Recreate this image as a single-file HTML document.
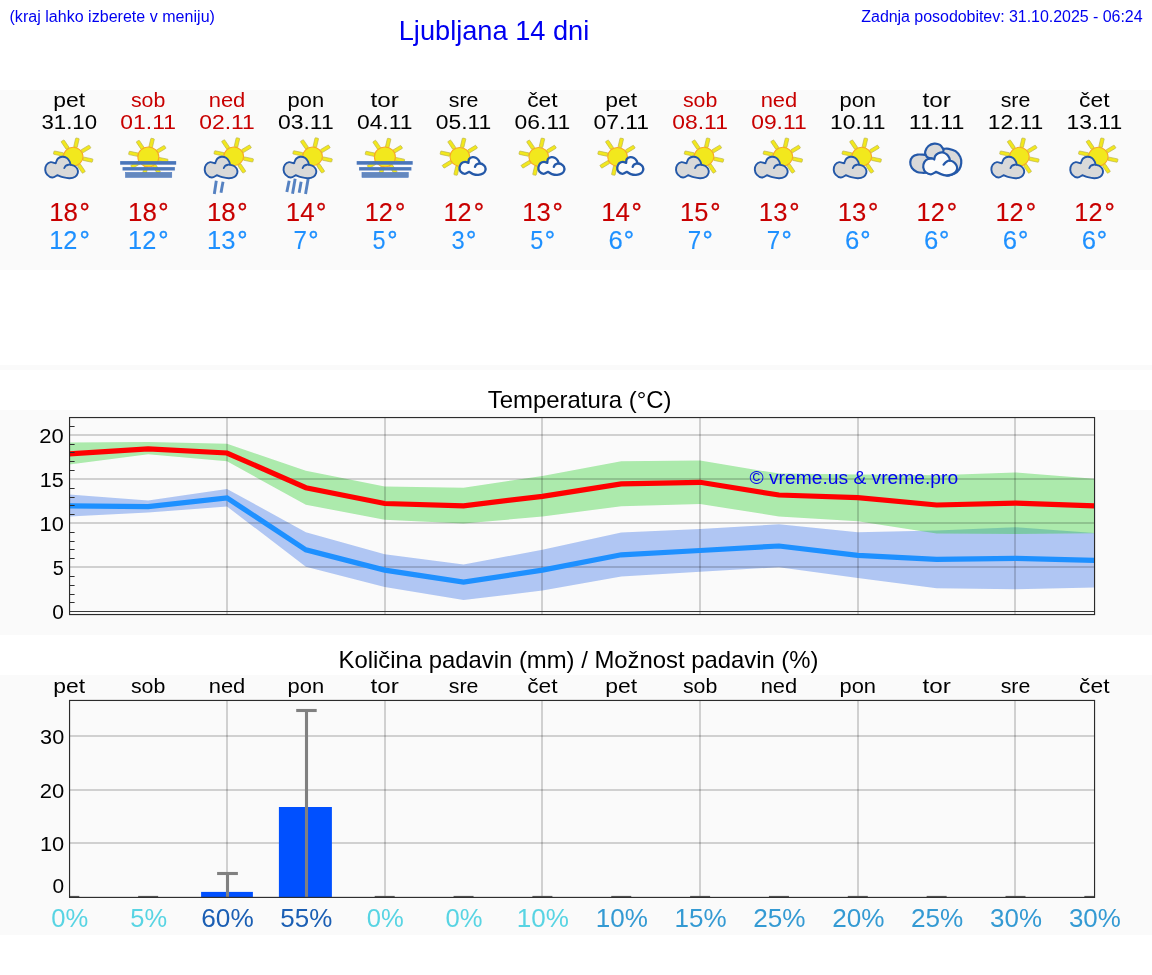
<!DOCTYPE html>
<html lang="sl"><head><meta charset="utf-8"><title>Ljubljana 14 dni</title>
<style>
html,body{margin:0;padding:0;background:#fff;}
body{width:1152px;height:975px;position:relative;overflow:hidden;will-change:transform;font-family:"Liberation Sans",sans-serif;}
.h{position:absolute;color:#0000f0;white-space:nowrap;line-height:1;}
#hl{left:9.5px;top:9px;font-size:16px;letter-spacing:0.03px;}
#hr{right:9.5px;top:9px;font-size:16px;letter-spacing:-0.045px;}
#ht{left:0;width:988px;text-align:center;top:16.5px;font-size:27.2px;}
</style></head><body>
<svg width="1152" height="975" viewBox="0 0 1152 975" style="position:absolute;left:0;top:0;font-family:'Liberation Sans',sans-serif">
<defs><g id="iA"><g transform="translate(32.9 22.6) scale(1.06 1)"><rect x="9.6" y="-1.7" width="9.2" height="3.4" rx="0.6" fill="#f2e81d" stroke="#b9b24c" stroke-width="0.6" transform="rotate(12.5)"/><rect x="9.6" y="-1.7" width="9.2" height="3.4" rx="0.6" fill="#f2e81d" stroke="#b9b24c" stroke-width="0.6" transform="rotate(57.5)"/><rect x="9.6" y="-1.7" width="9.2" height="3.4" rx="0.6" fill="#f2e81d" stroke="#b9b24c" stroke-width="0.6" transform="rotate(192.5)"/><rect x="9.6" y="-1.7" width="9.2" height="3.4" rx="0.6" fill="#f2e81d" stroke="#b9b24c" stroke-width="0.6" transform="rotate(237.5)"/><rect x="9.6" y="-1.7" width="9.2" height="3.4" rx="0.6" fill="#f2e81d" stroke="#b9b24c" stroke-width="0.6" transform="rotate(282.5)"/><rect x="9.6" y="-1.7" width="9.2" height="3.4" rx="0.6" fill="#f2e81d" stroke="#b9b24c" stroke-width="0.6" transform="rotate(327.5)"/><circle r="9.3" fill="#f2e81d" stroke="#f7a823" stroke-width="1"/></g><path d="M17.2 41.1C16.33 41.5 13.73 43.58 12 43.5C10.27 43.42 7.98 41.87 6.8 40.6C5.62 39.33 4.99 37.55 4.9 35.9C4.81 34.25 5.33 32 6.25 30.7C7.17 29.4 8.93 28.35 10.4 28.1C11.88 27.85 14.23 29.12 15.1 29.2C15.97 29.28 15.52 28.7 15.6 28.6C15.95 27.92 16.65 25.48 17.7 24.5C18.75 23.52 20.42 22.78 21.9 22.7C23.38 22.62 25.35 23.18 26.6 24C27.85 24.82 28.8 26.48 29.4 27.6C30 28.72 30.07 30.18 30.2 30.7C30.81 30.88 32.72 31.1 33.85 31.8C34.98 32.5 36.39 33.68 37 34.9C37.61 36.12 37.85 37.8 37.5 39.1C37.15 40.4 36.28 41.83 34.9 42.7C33.52 43.57 31.28 44.22 29.2 44.3C27.12 44.38 24.4 43.73 22.4 43.2C20.4 42.67 18.07 41.45 17.2 41.1Z" fill="#d9d9d9" stroke="#2458a8" stroke-width="1.9" stroke-linejoin="round"/><path d="M24 34.1C24.25 33.72 24.82 32.37 25.5 31.8C26.18 31.23 27.32 30.88 28.1 30.7C28.88 30.52 29.85 30.7 30.2 30.7" fill="none" stroke="#2458a8" stroke-width="1.9" stroke-linecap="round"/></g><g id="iB"><g transform="translate(29.2 22.9) scale(1.06 1)"><rect x="9.6" y="-1.7" width="9.2" height="3.4" rx="0.6" fill="#f2e81d" stroke="#b9b24c" stroke-width="0.6" transform="rotate(12.5)"/><rect x="9.6" y="-1.7" width="9.2" height="3.4" rx="0.6" fill="#f2e81d" stroke="#b9b24c" stroke-width="0.6" transform="rotate(57.5)"/><rect x="9.6" y="-1.7" width="9.2" height="3.4" rx="0.6" fill="#f2e81d" stroke="#b9b24c" stroke-width="0.6" transform="rotate(102.5)"/><rect x="9.6" y="-1.7" width="9.2" height="3.4" rx="0.6" fill="#f2e81d" stroke="#b9b24c" stroke-width="0.6" transform="rotate(147.5)"/><rect x="9.6" y="-1.7" width="9.2" height="3.4" rx="0.6" fill="#f2e81d" stroke="#b9b24c" stroke-width="0.6" transform="rotate(192.5)"/><rect x="9.6" y="-1.7" width="9.2" height="3.4" rx="0.6" fill="#f2e81d" stroke="#b9b24c" stroke-width="0.6" transform="rotate(237.5)"/><rect x="9.6" y="-1.7" width="9.2" height="3.4" rx="0.6" fill="#f2e81d" stroke="#b9b24c" stroke-width="0.6" transform="rotate(282.5)"/><rect x="9.6" y="-1.7" width="9.2" height="3.4" rx="0.6" fill="#f2e81d" stroke="#b9b24c" stroke-width="0.6" transform="rotate(327.5)"/><circle r="9.9" fill="#f2e81d" stroke="#f7a823" stroke-width="1"/></g><rect x="1" y="27.1" width="56" height="3.6" fill="#4a76ba"/><rect x="3.4" y="33.1" width="52.3" height="3.4" fill="#4e79bb"/><rect x="6.25" y="38.3" width="46.4" height="5.2" fill="#6488be" stroke="#4a78c4" stroke-width="0.5"/></g><g id="iC"><g transform="translate(35.7 22.4) scale(1.06 1)"><rect x="9.6" y="-1.7" width="9.2" height="3.4" rx="0.6" fill="#f2e81d" stroke="#b9b24c" stroke-width="0.6" transform="rotate(12.5)"/><rect x="9.6" y="-1.7" width="9.2" height="3.4" rx="0.6" fill="#f2e81d" stroke="#b9b24c" stroke-width="0.6" transform="rotate(57.5)"/><rect x="9.6" y="-1.7" width="9.2" height="3.4" rx="0.6" fill="#f2e81d" stroke="#b9b24c" stroke-width="0.6" transform="rotate(192.5)"/><rect x="9.6" y="-1.7" width="9.2" height="3.4" rx="0.6" fill="#f2e81d" stroke="#b9b24c" stroke-width="0.6" transform="rotate(237.5)"/><rect x="9.6" y="-1.7" width="9.2" height="3.4" rx="0.6" fill="#f2e81d" stroke="#b9b24c" stroke-width="0.6" transform="rotate(282.5)"/><rect x="9.6" y="-1.7" width="9.2" height="3.4" rx="0.6" fill="#f2e81d" stroke="#b9b24c" stroke-width="0.6" transform="rotate(327.5)"/><circle r="9.3" fill="#f2e81d" stroke="#f7a823" stroke-width="1"/></g><line x1="18.3" y1="46.7" x2="16.3" y2="60" stroke="#4474bb" stroke-width="2.9" stroke-opacity="0.9"/><line x1="25" y1="47.7" x2="23" y2="58.7" stroke="#4474bb" stroke-width="2.9" stroke-opacity="0.9"/><g transform="translate(1.8 0)"><path d="M17.2 41.1C16.33 41.5 13.73 43.58 12 43.5C10.27 43.42 7.98 41.87 6.8 40.6C5.62 39.33 4.99 37.55 4.9 35.9C4.81 34.25 5.33 32 6.25 30.7C7.17 29.4 8.93 28.35 10.4 28.1C11.88 27.85 14.23 29.12 15.1 29.2C15.97 29.28 15.52 28.7 15.6 28.6C15.95 27.92 16.65 25.48 17.7 24.5C18.75 23.52 20.42 22.78 21.9 22.7C23.38 22.62 25.35 23.18 26.6 24C27.85 24.82 28.8 26.48 29.4 27.6C30 28.72 30.07 30.18 30.2 30.7C30.81 30.88 32.72 31.1 33.85 31.8C34.98 32.5 36.39 33.68 37 34.9C37.61 36.12 37.85 37.8 37.5 39.1C37.15 40.4 36.28 41.83 34.9 42.7C33.52 43.57 31.28 44.22 29.2 44.3C27.12 44.38 24.4 43.73 22.4 43.2C20.4 42.67 18.07 41.45 17.2 41.1Z" fill="#d9d9d9" stroke="#2458a8" stroke-width="1.9" stroke-linejoin="round"/><path d="M24 34.1C24.25 33.72 24.82 32.37 25.5 31.8C26.18 31.23 27.32 30.88 28.1 30.7C28.88 30.52 29.85 30.7 30.2 30.7" fill="none" stroke="#2458a8" stroke-width="1.9" stroke-linecap="round"/></g></g><g id="iD"><g transform="translate(35.7 22.4) scale(1.06 1)"><rect x="9.6" y="-1.7" width="9.2" height="3.4" rx="0.6" fill="#f2e81d" stroke="#b9b24c" stroke-width="0.6" transform="rotate(12.5)"/><rect x="9.6" y="-1.7" width="9.2" height="3.4" rx="0.6" fill="#f2e81d" stroke="#b9b24c" stroke-width="0.6" transform="rotate(57.5)"/><rect x="9.6" y="-1.7" width="9.2" height="3.4" rx="0.6" fill="#f2e81d" stroke="#b9b24c" stroke-width="0.6" transform="rotate(192.5)"/><rect x="9.6" y="-1.7" width="9.2" height="3.4" rx="0.6" fill="#f2e81d" stroke="#b9b24c" stroke-width="0.6" transform="rotate(237.5)"/><rect x="9.6" y="-1.7" width="9.2" height="3.4" rx="0.6" fill="#f2e81d" stroke="#b9b24c" stroke-width="0.6" transform="rotate(282.5)"/><rect x="9.6" y="-1.7" width="9.2" height="3.4" rx="0.6" fill="#f2e81d" stroke="#b9b24c" stroke-width="0.6" transform="rotate(327.5)"/><circle r="9.3" fill="#f2e81d" stroke="#f7a823" stroke-width="1"/></g><line x1="12.3" y1="46.7" x2="10" y2="58" stroke="#4474bb" stroke-width="2.9" stroke-opacity="0.9"/><line x1="18.3" y1="44.7" x2="15.7" y2="59.7" stroke="#4474bb" stroke-width="2.9" stroke-opacity="0.9"/><line x1="24.3" y1="47.7" x2="22.3" y2="58.7" stroke="#4474bb" stroke-width="2.9" stroke-opacity="0.9"/><line x1="31.3" y1="44.7" x2="28.7" y2="60" stroke="#4474bb" stroke-width="2.9" stroke-opacity="0.9"/><g transform="translate(1.8 0)"><path d="M17.2 41.1C16.33 41.5 13.73 43.58 12 43.5C10.27 43.42 7.98 41.87 6.8 40.6C5.62 39.33 4.99 37.55 4.9 35.9C4.81 34.25 5.33 32 6.25 30.7C7.17 29.4 8.93 28.35 10.4 28.1C11.88 27.85 14.23 29.12 15.1 29.2C15.97 29.28 15.52 28.7 15.6 28.6C15.95 27.92 16.65 25.48 17.7 24.5C18.75 23.52 20.42 22.78 21.9 22.7C23.38 22.62 25.35 23.18 26.6 24C27.85 24.82 28.8 26.48 29.4 27.6C30 28.72 30.07 30.18 30.2 30.7C30.81 30.88 32.72 31.1 33.85 31.8C34.98 32.5 36.39 33.68 37 34.9C37.61 36.12 37.85 37.8 37.5 39.1C37.15 40.4 36.28 41.83 34.9 42.7C33.52 43.57 31.28 44.22 29.2 44.3C27.12 44.38 24.4 43.73 22.4 43.2C20.4 42.67 18.07 41.45 17.2 41.1Z" fill="#d9d9d9" stroke="#2458a8" stroke-width="1.9" stroke-linejoin="round"/><path d="M24 34.1C24.25 33.72 24.82 32.37 25.5 31.8C26.18 31.23 27.32 30.88 28.1 30.7C28.88 30.52 29.85 30.7 30.2 30.7" fill="none" stroke="#2458a8" stroke-width="1.9" stroke-linecap="round"/></g></g><g id="iE"><g transform="translate(25.3 22.7) scale(1.06 1)"><rect x="9.6" y="-1.7" width="9.2" height="3.4" rx="0.6" fill="#f2e81d" stroke="#b9b24c" stroke-width="0.6" transform="rotate(102.5)"/><rect x="9.6" y="-1.7" width="9.2" height="3.4" rx="0.6" fill="#f2e81d" stroke="#b9b24c" stroke-width="0.6" transform="rotate(147.5)"/><rect x="9.6" y="-1.7" width="9.2" height="3.4" rx="0.6" fill="#f2e81d" stroke="#b9b24c" stroke-width="0.6" transform="rotate(192.5)"/><rect x="9.6" y="-1.7" width="9.2" height="3.4" rx="0.6" fill="#f2e81d" stroke="#b9b24c" stroke-width="0.6" transform="rotate(237.5)"/><rect x="9.6" y="-1.7" width="9.2" height="3.4" rx="0.6" fill="#f2e81d" stroke="#b9b24c" stroke-width="0.6" transform="rotate(282.5)"/><rect x="9.6" y="-1.7" width="9.2" height="3.4" rx="0.6" fill="#f2e81d" stroke="#b9b24c" stroke-width="0.6" transform="rotate(327.5)"/><circle r="9.3" fill="#f2e81d" stroke="#f7a823" stroke-width="1"/></g><path d="M34.6 37.8C33.87 38.13 31.63 39.85 30.2 39.8C28.77 39.75 26.87 38.58 26 37.5C25.13 36.42 24.82 34.68 25 33.3C25.18 31.92 26.15 30.1 27.1 29.2C28.05 28.3 29.62 27.95 30.7 27.9C31.78 27.85 33.07 28.78 33.6 28.9C34.13 29.02 33.85 28.65 33.9 28.6C34.02 28 33.92 25.9 34.6 25C35.28 24.1 36.82 23.37 38 23.2C39.18 23.03 40.65 23.43 41.7 24C42.75 24.57 43.7 25.7 44.3 26.6C44.9 27.5 45.13 28.93 45.3 29.4C45.73 29.53 47.03 29.63 47.9 30.2C48.77 30.77 50.02 31.75 50.5 32.8C50.98 33.85 51.15 35.37 50.8 36.5C50.45 37.63 49.57 38.87 48.4 39.6C47.23 40.33 45.4 40.82 43.75 40.9C42.1 40.98 40.02 40.62 38.5 40.1C36.98 39.58 35.25 38.18 34.6 37.8Z" fill="#fcfcfc" stroke="#2458a8" stroke-width="2.3" stroke-linejoin="round"/><path d="M40.4 32.8C40.62 32.45 41.14 31.22 41.7 30.7C42.26 30.18 43.15 29.92 43.75 29.7C44.35 29.48 45.04 29.45 45.3 29.4" fill="none" stroke="#2458a8" stroke-width="2.3" stroke-linecap="round"/></g><g id="iF" stroke-width="2.2"><path d="M15.6 38.8C14.57 38.67 11.3 38.82 9.4 38C7.5 37.18 5.33 35.55 4.2 33.9C3.07 32.25 2.52 29.93 2.6 28.1C2.68 26.27 3.48 24.15 4.7 22.9C5.92 21.65 7.82 20.95 9.9 20.6C11.98 20.25 15.9 20.8 17.2 20.8C18.5 20.8 17.62 20.63 17.7 20.6C17.7 20.03 17.18 18.63 17.7 17.2C18.22 15.77 19.32 13.27 20.8 12C22.28 10.73 24.68 9.78 26.6 9.6C28.52 9.42 30.78 9.98 32.3 10.9C33.82 11.82 35.1 14.45 35.7 15.1C36.3 15.75 35.87 14.85 35.9 14.8C36.77 14.8 39.1 14.4 41.1 14.8C43.1 15.2 45.98 15.85 47.9 17.2C49.82 18.55 51.65 20.9 52.6 22.9C53.55 24.9 53.77 27.12 53.6 29.2C53.43 31.28 52.72 33.67 51.6 35.4C50.48 37.13 48.9 38.55 46.9 39.6C44.9 40.65 40.82 41.35 39.6 41.7L30 38Z" fill="#d9d9d9" stroke="#2458a8" stroke-linejoin="round"/><path d="M17.7 20.6C17.92 20.93 18.48 22.08 19 22.6C19.52 23.12 19.88 23.38 20.8 23.7C21.72 24.02 23.88 24.37 24.5 24.5M35.9 14.8C35.88 15.1 35.88 15.98 35.8 16.6C35.72 17.22 35.47 18.18 35.4 18.5" fill="none" stroke="#2458a8" stroke-linecap="round"/><path d="M28.4 37.8C27.57 38.23 25.1 40.32 23.4 40.4C21.7 40.48 19.5 39.48 18.2 38.3C16.9 37.12 15.85 35 15.6 33.3C15.35 31.6 15.92 29.48 16.7 28.1C17.48 26.72 18.92 25.57 20.3 25C21.68 24.43 23.95 24.62 25 24.7C26.05 24.78 26.33 25.37 26.6 25.5C26.77 24.9 26.92 22.93 27.6 21.9C28.28 20.87 29.48 19.87 30.7 19.3C31.92 18.73 33.5 18.33 34.9 18.5C36.3 18.67 37.97 19.38 39.1 20.3C40.23 21.22 41.18 22.95 41.7 24C42.22 25.05 42.12 26.17 42.2 26.6C42.72 26.77 44.27 26.92 45.3 27.6C46.33 28.28 47.7 29.57 48.4 30.7C49.1 31.83 49.58 33.18 49.5 34.4C49.42 35.62 48.86 36.97 47.9 38C46.94 39.03 45.32 40.03 43.75 40.6C42.18 41.17 40.24 41.48 38.5 41.4C36.76 41.32 34.98 40.7 33.3 40.1C31.62 39.5 29.22 38.18 28.4 37.8Z" fill="#fcfcfc" stroke="#2458a8" stroke-linejoin="round"/><path d="M35.9 30.7C36.25 30.32 37.22 29.05 38 28.4C38.78 27.75 39.9 27.1 40.6 26.8C41.3 26.5 41.93 26.63 42.2 26.6" fill="none" stroke="#2458a8" stroke-linecap="round"/></g></defs>
<rect x="0" y="90" width="1152" height="180" fill="#fafafa"/>
<rect x="0" y="365" width="1152" height="5" fill="#fafafa"/>
<rect x="0" y="410" width="1152" height="225" fill="#fafafa"/>
<rect x="0" y="675" width="1152" height="260" fill="#fafafa"/>
<text x="69.3" y="106.7" font-size="20.3" fill="#000" text-anchor="middle" textLength="31.84" lengthAdjust="spacingAndGlyphs">pet</text>
<text x="69.3" y="128.8" font-size="20.3" fill="#000" text-anchor="middle" textLength="55.57" lengthAdjust="spacingAndGlyphs">31.10</text>
<use href="#iA" x="40.3" y="134"/>
<text x="49.23" y="220.6" font-size="25.4" fill="#c80000" textLength="28.78" lengthAdjust="spacingAndGlyphs" stroke="#c80000" stroke-width="0.12">18</text><text x="79.49" y="220.6" font-size="26.54" fill="#c80000" textLength="10.32" lengthAdjust="spacingAndGlyphs" stroke="#c80000" stroke-width="0.4">°</text>
<text x="49.27" y="248.7" font-size="25.4" fill="#1e90ff" textLength="28.14" lengthAdjust="spacingAndGlyphs" stroke="#1e90ff" stroke-width="0.12">12</text><text x="79.49" y="248.7" font-size="26.54" fill="#1e90ff" textLength="10.32" lengthAdjust="spacingAndGlyphs" stroke="#1e90ff" stroke-width="0.4">°</text>
<text x="148.15" y="106.7" font-size="20.3" fill="#c80000" text-anchor="middle" textLength="34.41" lengthAdjust="spacingAndGlyphs">sob</text>
<text x="148.15" y="128.8" font-size="20.3" fill="#c80000" text-anchor="middle" textLength="55.57" lengthAdjust="spacingAndGlyphs">01.11</text>
<use href="#iB" x="119.15" y="134"/>
<text x="128.08" y="220.6" font-size="25.4" fill="#c80000" textLength="28.78" lengthAdjust="spacingAndGlyphs" stroke="#c80000" stroke-width="0.12">18</text><text x="158.34" y="220.6" font-size="26.54" fill="#c80000" textLength="10.32" lengthAdjust="spacingAndGlyphs" stroke="#c80000" stroke-width="0.4">°</text>
<text x="128.12" y="248.7" font-size="25.4" fill="#1e90ff" textLength="28.14" lengthAdjust="spacingAndGlyphs" stroke="#1e90ff" stroke-width="0.12">12</text><text x="158.34" y="248.7" font-size="26.54" fill="#1e90ff" textLength="10.32" lengthAdjust="spacingAndGlyphs" stroke="#1e90ff" stroke-width="0.4">°</text>
<text x="227" y="106.7" font-size="20.3" fill="#c80000" text-anchor="middle" textLength="36.58" lengthAdjust="spacingAndGlyphs">ned</text>
<text x="227" y="128.8" font-size="20.3" fill="#c80000" text-anchor="middle" textLength="55.57" lengthAdjust="spacingAndGlyphs">02.11</text>
<use href="#iC" x="198" y="134"/>
<text x="206.93" y="220.6" font-size="25.4" fill="#c80000" textLength="28.78" lengthAdjust="spacingAndGlyphs" stroke="#c80000" stroke-width="0.12">18</text><text x="237.19" y="220.6" font-size="26.54" fill="#c80000" textLength="10.32" lengthAdjust="spacingAndGlyphs" stroke="#c80000" stroke-width="0.4">°</text>
<text x="206.94" y="248.7" font-size="25.4" fill="#1e90ff" textLength="28.52" lengthAdjust="spacingAndGlyphs" stroke="#1e90ff" stroke-width="0.12">13</text><text x="237.19" y="248.7" font-size="26.54" fill="#1e90ff" textLength="10.32" lengthAdjust="spacingAndGlyphs" stroke="#1e90ff" stroke-width="0.4">°</text>
<text x="305.85" y="106.7" font-size="20.3" fill="#000" text-anchor="middle" textLength="36.57" lengthAdjust="spacingAndGlyphs">pon</text>
<text x="305.85" y="128.8" font-size="20.3" fill="#000" text-anchor="middle" textLength="55.57" lengthAdjust="spacingAndGlyphs">03.11</text>
<use href="#iD" x="276.85" y="134"/>
<text x="285.78" y="220.6" font-size="25.4" fill="#c80000" textLength="28.74" lengthAdjust="spacingAndGlyphs" stroke="#c80000" stroke-width="0.12">14</text><text x="316.04" y="220.6" font-size="26.54" fill="#c80000" textLength="10.32" lengthAdjust="spacingAndGlyphs" stroke="#c80000" stroke-width="0.4">°</text>
<text x="293.55" y="248.7" font-size="25.4" fill="#1e90ff" textLength="13.44" lengthAdjust="spacingAndGlyphs" stroke="#1e90ff" stroke-width="0.12">7</text><text x="308.32" y="248.7" font-size="26.54" fill="#1e90ff" textLength="10.32" lengthAdjust="spacingAndGlyphs" stroke="#1e90ff" stroke-width="0.4">°</text>
<text x="384.7" y="106.7" font-size="20.3" fill="#000" text-anchor="middle" textLength="28.29" lengthAdjust="spacingAndGlyphs">tor</text>
<text x="384.7" y="128.8" font-size="20.3" fill="#000" text-anchor="middle" textLength="55.57" lengthAdjust="spacingAndGlyphs">04.11</text>
<use href="#iB" x="355.7" y="134"/>
<text x="364.67" y="220.6" font-size="25.4" fill="#c80000" textLength="28.14" lengthAdjust="spacingAndGlyphs" stroke="#c80000" stroke-width="0.12">12</text><text x="394.89" y="220.6" font-size="26.54" fill="#c80000" textLength="10.32" lengthAdjust="spacingAndGlyphs" stroke="#c80000" stroke-width="0.4">°</text>
<text x="372.56" y="248.7" font-size="25.4" fill="#1e90ff" textLength="13.02" lengthAdjust="spacingAndGlyphs" stroke="#1e90ff" stroke-width="0.12">5</text><text x="387.17" y="248.7" font-size="26.54" fill="#1e90ff" textLength="10.32" lengthAdjust="spacingAndGlyphs" stroke="#1e90ff" stroke-width="0.4">°</text>
<text x="463.55" y="106.7" font-size="20.3" fill="#000" text-anchor="middle" textLength="29.65" lengthAdjust="spacingAndGlyphs">sre</text>
<text x="463.55" y="128.8" font-size="20.3" fill="#000" text-anchor="middle" textLength="55.57" lengthAdjust="spacingAndGlyphs">05.11</text>
<use href="#iE" x="434.55" y="134"/>
<text x="443.52" y="220.6" font-size="25.4" fill="#c80000" textLength="28.14" lengthAdjust="spacingAndGlyphs" stroke="#c80000" stroke-width="0.12">12</text><text x="473.74" y="220.6" font-size="26.54" fill="#c80000" textLength="10.32" lengthAdjust="spacingAndGlyphs" stroke="#c80000" stroke-width="0.4">°</text>
<text x="451.45" y="248.7" font-size="25.4" fill="#1e90ff" textLength="13.22" lengthAdjust="spacingAndGlyphs" stroke="#1e90ff" stroke-width="0.12">3</text><text x="466.02" y="248.7" font-size="26.54" fill="#1e90ff" textLength="10.32" lengthAdjust="spacingAndGlyphs" stroke="#1e90ff" stroke-width="0.4">°</text>
<text x="542.4" y="106.7" font-size="20.3" fill="#000" text-anchor="middle" textLength="30.42" lengthAdjust="spacingAndGlyphs">čet</text>
<text x="542.4" y="128.8" font-size="20.3" fill="#000" text-anchor="middle" textLength="55.57" lengthAdjust="spacingAndGlyphs">06.11</text>
<use href="#iE" x="513.4" y="134"/>
<text x="522.34" y="220.6" font-size="25.4" fill="#c80000" textLength="28.52" lengthAdjust="spacingAndGlyphs" stroke="#c80000" stroke-width="0.12">13</text><text x="552.59" y="220.6" font-size="26.54" fill="#c80000" textLength="10.32" lengthAdjust="spacingAndGlyphs" stroke="#c80000" stroke-width="0.4">°</text>
<text x="530.26" y="248.7" font-size="25.4" fill="#1e90ff" textLength="13.02" lengthAdjust="spacingAndGlyphs" stroke="#1e90ff" stroke-width="0.12">5</text><text x="544.87" y="248.7" font-size="26.54" fill="#1e90ff" textLength="10.32" lengthAdjust="spacingAndGlyphs" stroke="#1e90ff" stroke-width="0.4">°</text>
<text x="621.25" y="106.7" font-size="20.3" fill="#000" text-anchor="middle" textLength="31.84" lengthAdjust="spacingAndGlyphs">pet</text>
<text x="621.25" y="128.8" font-size="20.3" fill="#000" text-anchor="middle" textLength="55.57" lengthAdjust="spacingAndGlyphs">07.11</text>
<use href="#iE" x="592.25" y="134"/>
<text x="601.18" y="220.6" font-size="25.4" fill="#c80000" textLength="28.74" lengthAdjust="spacingAndGlyphs" stroke="#c80000" stroke-width="0.12">14</text><text x="631.44" y="220.6" font-size="26.54" fill="#c80000" textLength="10.32" lengthAdjust="spacingAndGlyphs" stroke="#c80000" stroke-width="0.4">°</text>
<text x="608.58" y="248.7" font-size="25.4" fill="#1e90ff" textLength="14.28" lengthAdjust="spacingAndGlyphs" stroke="#1e90ff" stroke-width="0.12">6</text><text x="623.72" y="248.7" font-size="26.54" fill="#1e90ff" textLength="10.32" lengthAdjust="spacingAndGlyphs" stroke="#1e90ff" stroke-width="0.4">°</text>
<text x="700.1" y="106.7" font-size="20.3" fill="#c80000" text-anchor="middle" textLength="34.41" lengthAdjust="spacingAndGlyphs">sob</text>
<text x="700.1" y="128.8" font-size="20.3" fill="#c80000" text-anchor="middle" textLength="55.57" lengthAdjust="spacingAndGlyphs">08.11</text>
<use href="#iA" x="671.1" y="134"/>
<text x="680.06" y="220.6" font-size="25.4" fill="#c80000" textLength="28.25" lengthAdjust="spacingAndGlyphs" stroke="#c80000" stroke-width="0.12">15</text><text x="710.29" y="220.6" font-size="26.54" fill="#c80000" textLength="10.32" lengthAdjust="spacingAndGlyphs" stroke="#c80000" stroke-width="0.4">°</text>
<text x="687.8" y="248.7" font-size="25.4" fill="#1e90ff" textLength="13.44" lengthAdjust="spacingAndGlyphs" stroke="#1e90ff" stroke-width="0.12">7</text><text x="702.57" y="248.7" font-size="26.54" fill="#1e90ff" textLength="10.32" lengthAdjust="spacingAndGlyphs" stroke="#1e90ff" stroke-width="0.4">°</text>
<text x="778.95" y="106.7" font-size="20.3" fill="#c80000" text-anchor="middle" textLength="36.58" lengthAdjust="spacingAndGlyphs">ned</text>
<text x="778.95" y="128.8" font-size="20.3" fill="#c80000" text-anchor="middle" textLength="55.57" lengthAdjust="spacingAndGlyphs">09.11</text>
<use href="#iA" x="749.95" y="134"/>
<text x="758.89" y="220.6" font-size="25.4" fill="#c80000" textLength="28.52" lengthAdjust="spacingAndGlyphs" stroke="#c80000" stroke-width="0.12">13</text><text x="789.14" y="220.6" font-size="26.54" fill="#c80000" textLength="10.32" lengthAdjust="spacingAndGlyphs" stroke="#c80000" stroke-width="0.4">°</text>
<text x="766.65" y="248.7" font-size="25.4" fill="#1e90ff" textLength="13.44" lengthAdjust="spacingAndGlyphs" stroke="#1e90ff" stroke-width="0.12">7</text><text x="781.42" y="248.7" font-size="26.54" fill="#1e90ff" textLength="10.32" lengthAdjust="spacingAndGlyphs" stroke="#1e90ff" stroke-width="0.4">°</text>
<text x="857.8" y="106.7" font-size="20.3" fill="#000" text-anchor="middle" textLength="36.57" lengthAdjust="spacingAndGlyphs">pon</text>
<text x="857.8" y="128.8" font-size="20.3" fill="#000" text-anchor="middle" textLength="55.59" lengthAdjust="spacingAndGlyphs">10.11</text>
<use href="#iA" x="828.8" y="134"/>
<text x="837.74" y="220.6" font-size="25.4" fill="#c80000" textLength="28.52" lengthAdjust="spacingAndGlyphs" stroke="#c80000" stroke-width="0.12">13</text><text x="867.99" y="220.6" font-size="26.54" fill="#c80000" textLength="10.32" lengthAdjust="spacingAndGlyphs" stroke="#c80000" stroke-width="0.4">°</text>
<text x="845.13" y="248.7" font-size="25.4" fill="#1e90ff" textLength="14.28" lengthAdjust="spacingAndGlyphs" stroke="#1e90ff" stroke-width="0.12">6</text><text x="860.27" y="248.7" font-size="26.54" fill="#1e90ff" textLength="10.32" lengthAdjust="spacingAndGlyphs" stroke="#1e90ff" stroke-width="0.4">°</text>
<text x="936.65" y="106.7" font-size="20.3" fill="#000" text-anchor="middle" textLength="28.29" lengthAdjust="spacingAndGlyphs">tor</text>
<text x="936.65" y="128.8" font-size="20.3" fill="#000" text-anchor="middle" textLength="55.7" lengthAdjust="spacingAndGlyphs">11.11</text>
<use href="#iF" x="907.65" y="134"/>
<text x="916.62" y="220.6" font-size="25.4" fill="#c80000" textLength="28.14" lengthAdjust="spacingAndGlyphs" stroke="#c80000" stroke-width="0.12">12</text><text x="946.84" y="220.6" font-size="26.54" fill="#c80000" textLength="10.32" lengthAdjust="spacingAndGlyphs" stroke="#c80000" stroke-width="0.4">°</text>
<text x="923.98" y="248.7" font-size="25.4" fill="#1e90ff" textLength="14.28" lengthAdjust="spacingAndGlyphs" stroke="#1e90ff" stroke-width="0.12">6</text><text x="939.12" y="248.7" font-size="26.54" fill="#1e90ff" textLength="10.32" lengthAdjust="spacingAndGlyphs" stroke="#1e90ff" stroke-width="0.4">°</text>
<text x="1015.5" y="106.7" font-size="20.3" fill="#000" text-anchor="middle" textLength="29.65" lengthAdjust="spacingAndGlyphs">sre</text>
<text x="1015.5" y="128.8" font-size="20.3" fill="#000" text-anchor="middle" textLength="55.59" lengthAdjust="spacingAndGlyphs">12.11</text>
<use href="#iA" x="986.5" y="134"/>
<text x="995.47" y="220.6" font-size="25.4" fill="#c80000" textLength="28.14" lengthAdjust="spacingAndGlyphs" stroke="#c80000" stroke-width="0.12">12</text><text x="1025.69" y="220.6" font-size="26.54" fill="#c80000" textLength="10.32" lengthAdjust="spacingAndGlyphs" stroke="#c80000" stroke-width="0.4">°</text>
<text x="1002.83" y="248.7" font-size="25.4" fill="#1e90ff" textLength="14.28" lengthAdjust="spacingAndGlyphs" stroke="#1e90ff" stroke-width="0.12">6</text><text x="1017.97" y="248.7" font-size="26.54" fill="#1e90ff" textLength="10.32" lengthAdjust="spacingAndGlyphs" stroke="#1e90ff" stroke-width="0.4">°</text>
<text x="1094.35" y="106.7" font-size="20.3" fill="#000" text-anchor="middle" textLength="30.42" lengthAdjust="spacingAndGlyphs">čet</text>
<text x="1094.35" y="128.8" font-size="20.3" fill="#000" text-anchor="middle" textLength="55.59" lengthAdjust="spacingAndGlyphs">13.11</text>
<use href="#iA" x="1065.35" y="134"/>
<text x="1074.32" y="220.6" font-size="25.4" fill="#c80000" textLength="28.14" lengthAdjust="spacingAndGlyphs" stroke="#c80000" stroke-width="0.12">12</text><text x="1104.54" y="220.6" font-size="26.54" fill="#c80000" textLength="10.32" lengthAdjust="spacingAndGlyphs" stroke="#c80000" stroke-width="0.4">°</text>
<text x="1081.68" y="248.7" font-size="25.4" fill="#1e90ff" textLength="14.28" lengthAdjust="spacingAndGlyphs" stroke="#1e90ff" stroke-width="0.12">6</text><text x="1096.82" y="248.7" font-size="26.54" fill="#1e90ff" textLength="10.32" lengthAdjust="spacingAndGlyphs" stroke="#1e90ff" stroke-width="0.4">°</text>
<text x="579.6" y="407.8" font-size="24" fill="#000" text-anchor="middle" textLength="183.71" lengthAdjust="spacingAndGlyphs">Temperatura (°C)</text>
<clipPath id="ct"><rect x="69.3" y="417.5" width="1025.05" height="197"/></clipPath>
<g clip-path="url(#ct)">
<polygon points="69.3,494.5 148.15,500.6 227,488.9 305.85,532.2 384.7,554.3 463.55,564.5 542.4,549.8 621.25,532.4 700.1,529 778.95,524.3 857.8,532.2 936.65,530.4 1015.5,527.2 1094.35,533 1094.35,587.5 1015.5,589.3 936.65,588.2 857.8,578 778.95,567.2 700.1,571.7 621.25,576.4 542.4,590.4 463.55,600.1 384.7,587 305.85,566.7 227,506.5 148.15,512.6 69.3,516.6" fill="#4178e8" fill-opacity="0.40"/>
<polygon points="69.3,442.6 148.15,442.1 227,443.7 305.85,470.8 384.7,486.6 463.55,487.7 542.4,476 621.25,461.3 700.1,460.6 778.95,473.6 857.8,474.6 936.65,475.2 1015.5,472.4 1094.35,478.7 1094.35,533.2 1015.5,534 936.65,533.6 857.8,521.3 778.95,516.4 700.1,504 621.25,506.2 542.4,516.6 463.55,523.4 384.7,519.8 305.85,504.7 227,461.3 148.15,454.3 69.3,464.5" fill="#22cc22" fill-opacity="0.36"/>
<rect x="69.3" y="566" width="1025.05" height="2" fill="#000" fill-opacity="0.165"/>
<rect x="69.3" y="522" width="1025.05" height="2" fill="#000" fill-opacity="0.165"/>
<rect x="69.3" y="478" width="1025.05" height="2" fill="#000" fill-opacity="0.165"/>
<rect x="69.3" y="434" width="1025.05" height="2" fill="#000" fill-opacity="0.165"/>
<rect x="226" y="417.5" width="2" height="197" fill="#000" fill-opacity="0.165"/>
<rect x="384" y="417.5" width="2" height="197" fill="#000" fill-opacity="0.165"/>
<rect x="541" y="417.5" width="2" height="197" fill="#000" fill-opacity="0.165"/>
<rect x="699" y="417.5" width="2" height="197" fill="#000" fill-opacity="0.165"/>
<rect x="857" y="417.5" width="2" height="197" fill="#000" fill-opacity="0.165"/>
<rect x="1014" y="417.5" width="2" height="197" fill="#000" fill-opacity="0.165"/>
<polyline points="69.3,453.9 148.15,448.9 227,453 305.85,487.7 384.7,503.5 463.55,505.8 542.4,496.3 621.25,483.9 700.1,482.3 778.95,495 857.8,497.6 936.65,505 1015.5,503.1 1094.35,505.8" fill="none" stroke="#ff0000" stroke-width="5.2" stroke-linejoin="miter"/>
<polyline points="69.3,505.8 148.15,506.7 227,497.9 305.85,549.8 384.7,570.1 463.55,582.1 542.4,570.1 621.25,554.8 700.1,550.5 778.95,546 857.8,555.4 936.65,559.3 1015.5,558.4 1094.35,560.4" fill="none" stroke="#1e90ff" stroke-width="5.2" stroke-linejoin="miter"/>
</g>
<rect x="69" y="611" width="1026" height="1" fill="#3a3a3a"/>
<rect x="70" y="602" width="4.6" height="1" fill="#2f2f2f"/>
<rect x="70" y="594" width="4.6" height="1" fill="#2f2f2f"/>
<rect x="70" y="585" width="4.6" height="1" fill="#2f2f2f"/>
<rect x="70" y="576" width="4.6" height="1" fill="#2f2f2f"/>
<rect x="70" y="558" width="4.6" height="1" fill="#2f2f2f"/>
<rect x="70" y="549" width="4.6" height="1" fill="#2f2f2f"/>
<rect x="70" y="541" width="4.6" height="1" fill="#2f2f2f"/>
<rect x="70" y="532" width="4.6" height="1" fill="#2f2f2f"/>
<rect x="70" y="514" width="4.6" height="1" fill="#2f2f2f"/>
<rect x="70" y="505" width="4.6" height="1" fill="#2f2f2f"/>
<rect x="70" y="497" width="4.6" height="1" fill="#2f2f2f"/>
<rect x="70" y="488" width="4.6" height="1" fill="#2f2f2f"/>
<rect x="70" y="470" width="4.6" height="1" fill="#2f2f2f"/>
<rect x="70" y="461" width="4.6" height="1" fill="#2f2f2f"/>
<rect x="70" y="452" width="4.6" height="1" fill="#2f2f2f"/>
<rect x="70" y="444" width="4.6" height="1" fill="#2f2f2f"/>
<rect x="70" y="426" width="4.6" height="1" fill="#2f2f2f"/>
<rect x="69.55" y="417.55" width="1025" height="197" fill="none" stroke="#2b2b2b" stroke-width="1.15"/>
<text x="63.8" y="618.9" font-size="19.9" fill="#000" text-anchor="end" textLength="11.59" lengthAdjust="spacingAndGlyphs">0</text>
<text x="63.8" y="574.8" font-size="19.9" fill="#000" text-anchor="end" textLength="11.01" lengthAdjust="spacingAndGlyphs">5</text>
<text x="63.8" y="530.7" font-size="19.9" fill="#000" text-anchor="end" textLength="24.29" lengthAdjust="spacingAndGlyphs">10</text>
<text x="63.8" y="486.6" font-size="19.9" fill="#000" text-anchor="end" textLength="23.91" lengthAdjust="spacingAndGlyphs">15</text>
<text x="63.8" y="442.5" font-size="19.9" fill="#000" text-anchor="end" textLength="24.45" lengthAdjust="spacingAndGlyphs">20</text>
<text x="853.8" y="483.9" font-size="19.2" fill="#0000f0" text-anchor="middle" textLength="208.61" lengthAdjust="spacingAndGlyphs">© vreme.us &amp; vreme.pro</text>
<text x="578.5" y="667.9" font-size="24" fill="#000" text-anchor="middle" textLength="479.83" lengthAdjust="spacingAndGlyphs">Količina padavin (mm) / Možnost padavin (%)</text>
<text x="69.3" y="692.7" font-size="20.3" fill="#000" text-anchor="middle" textLength="31.84" lengthAdjust="spacingAndGlyphs">pet</text>
<text x="148.15" y="692.7" font-size="20.3" fill="#000" text-anchor="middle" textLength="34.41" lengthAdjust="spacingAndGlyphs">sob</text>
<text x="227" y="692.7" font-size="20.3" fill="#000" text-anchor="middle" textLength="36.58" lengthAdjust="spacingAndGlyphs">ned</text>
<text x="305.85" y="692.7" font-size="20.3" fill="#000" text-anchor="middle" textLength="36.57" lengthAdjust="spacingAndGlyphs">pon</text>
<text x="384.7" y="692.7" font-size="20.3" fill="#000" text-anchor="middle" textLength="28.29" lengthAdjust="spacingAndGlyphs">tor</text>
<text x="463.55" y="692.7" font-size="20.3" fill="#000" text-anchor="middle" textLength="29.65" lengthAdjust="spacingAndGlyphs">sre</text>
<text x="542.4" y="692.7" font-size="20.3" fill="#000" text-anchor="middle" textLength="30.42" lengthAdjust="spacingAndGlyphs">čet</text>
<text x="621.25" y="692.7" font-size="20.3" fill="#000" text-anchor="middle" textLength="31.84" lengthAdjust="spacingAndGlyphs">pet</text>
<text x="700.1" y="692.7" font-size="20.3" fill="#000" text-anchor="middle" textLength="34.41" lengthAdjust="spacingAndGlyphs">sob</text>
<text x="778.95" y="692.7" font-size="20.3" fill="#000" text-anchor="middle" textLength="36.58" lengthAdjust="spacingAndGlyphs">ned</text>
<text x="857.8" y="692.7" font-size="20.3" fill="#000" text-anchor="middle" textLength="36.57" lengthAdjust="spacingAndGlyphs">pon</text>
<text x="936.65" y="692.7" font-size="20.3" fill="#000" text-anchor="middle" textLength="28.29" lengthAdjust="spacingAndGlyphs">tor</text>
<text x="1015.5" y="692.7" font-size="20.3" fill="#000" text-anchor="middle" textLength="29.65" lengthAdjust="spacingAndGlyphs">sre</text>
<text x="1094.35" y="692.7" font-size="20.3" fill="#000" text-anchor="middle" textLength="30.42" lengthAdjust="spacingAndGlyphs">čet</text>
<rect x="69.3" y="735" width="1025.05" height="2" fill="#000" fill-opacity="0.165"/>
<rect x="69.3" y="789" width="1025.05" height="2" fill="#000" fill-opacity="0.165"/>
<rect x="69.3" y="842" width="1025.05" height="2" fill="#000" fill-opacity="0.165"/>
<rect x="226" y="700.5" width="2" height="196.5" fill="#000" fill-opacity="0.165"/>
<rect x="384" y="700.5" width="2" height="196.5" fill="#000" fill-opacity="0.165"/>
<rect x="541" y="700.5" width="2" height="196.5" fill="#000" fill-opacity="0.165"/>
<rect x="699" y="700.5" width="2" height="196.5" fill="#000" fill-opacity="0.165"/>
<rect x="857" y="700.5" width="2" height="196.5" fill="#000" fill-opacity="0.165"/>
<rect x="1014" y="700.5" width="2" height="196.5" fill="#000" fill-opacity="0.165"/>
<rect x="201.1" y="891.9" width="51.8" height="5.3" fill="#0050ff"/>
<rect x="278.9" y="807" width="53" height="90.2" fill="#0050ff"/>
<g stroke="#808080" stroke-width="3.1"><line x1="227.5" x2="227.5" y1="873.5" y2="897.2"/><line x1="217.1" x2="237.9" y1="873.5" y2="873.5"/><line x1="306.5" x2="306.5" y1="710.5" y2="897.2"/><line x1="296.2" x2="316.7" y1="710.5" y2="710.5"/></g>
<rect x="69.3" y="895.9" width="10" height="1.1" fill="#5a5a5a"/>
<rect x="138.15" y="895.9" width="20" height="1.1" fill="#5a5a5a"/>
<rect x="374.7" y="895.9" width="20" height="1.1" fill="#5a5a5a"/>
<rect x="453.55" y="895.9" width="20" height="1.1" fill="#5a5a5a"/>
<rect x="532.4" y="895.9" width="20" height="1.1" fill="#5a5a5a"/>
<rect x="611.25" y="895.9" width="20" height="1.1" fill="#5a5a5a"/>
<rect x="690.1" y="895.9" width="20" height="1.1" fill="#5a5a5a"/>
<rect x="768.95" y="895.9" width="20" height="1.1" fill="#5a5a5a"/>
<rect x="847.8" y="895.9" width="20" height="1.1" fill="#5a5a5a"/>
<rect x="926.65" y="895.9" width="20" height="1.1" fill="#5a5a5a"/>
<rect x="1005.5" y="895.9" width="20" height="1.1" fill="#5a5a5a"/>
<rect x="1084.35" y="895.9" width="10" height="1.1" fill="#5a5a5a"/>
<rect x="69.55" y="700.45" width="1025" height="196.95" fill="none" stroke="#2b2b2b" stroke-width="1.15"/>
<text x="64.2" y="743.8" font-size="19.9" fill="#000" text-anchor="end" textLength="24.1" lengthAdjust="spacingAndGlyphs">30</text>
<text x="64.2" y="797.8" font-size="19.9" fill="#000" text-anchor="end" textLength="24.45" lengthAdjust="spacingAndGlyphs">20</text>
<text x="64.2" y="851" font-size="19.9" fill="#000" text-anchor="end" textLength="24.29" lengthAdjust="spacingAndGlyphs">10</text>
<text x="64.2" y="892.8" font-size="19.9" fill="#000" text-anchor="end" textLength="11.59" lengthAdjust="spacingAndGlyphs">0</text>
<text x="69.8" y="927" font-size="26.3" fill="#58d4e3" text-anchor="middle" textLength="37" lengthAdjust="spacingAndGlyphs">0%</text>
<text x="148.65" y="927" font-size="26.3" fill="#58d4e3" text-anchor="middle" textLength="36.81" lengthAdjust="spacingAndGlyphs">5%</text>
<text x="227.5" y="927" font-size="26.3" fill="#1b5fb4" text-anchor="middle" textLength="52.45" lengthAdjust="spacingAndGlyphs">60%</text>
<text x="306.35" y="927" font-size="26.3" fill="#1b5fb4" text-anchor="middle" textLength="51.99" lengthAdjust="spacingAndGlyphs">55%</text>
<text x="385.2" y="927" font-size="26.3" fill="#58d4e3" text-anchor="middle" textLength="37" lengthAdjust="spacingAndGlyphs">0%</text>
<text x="464.05" y="927" font-size="26.3" fill="#58d4e3" text-anchor="middle" textLength="37" lengthAdjust="spacingAndGlyphs">0%</text>
<text x="542.9" y="927" font-size="26.3" fill="#58d4e3" text-anchor="middle" textLength="52.13" lengthAdjust="spacingAndGlyphs">10%</text>
<text x="621.75" y="927" font-size="26.3" fill="#349ad3" text-anchor="middle" textLength="52.13" lengthAdjust="spacingAndGlyphs">10%</text>
<text x="700.6" y="927" font-size="26.3" fill="#349ad3" text-anchor="middle" textLength="52.13" lengthAdjust="spacingAndGlyphs">15%</text>
<text x="779.45" y="927" font-size="26.3" fill="#349ad3" text-anchor="middle" textLength="52.33" lengthAdjust="spacingAndGlyphs">25%</text>
<text x="858.3" y="927" font-size="26.3" fill="#349ad3" text-anchor="middle" textLength="52.33" lengthAdjust="spacingAndGlyphs">20%</text>
<text x="937.15" y="927" font-size="26.3" fill="#349ad3" text-anchor="middle" textLength="52.33" lengthAdjust="spacingAndGlyphs">25%</text>
<text x="1016" y="927" font-size="26.3" fill="#349ad3" text-anchor="middle" textLength="51.93" lengthAdjust="spacingAndGlyphs">30%</text>
<text x="1094.85" y="927" font-size="26.3" fill="#349ad3" text-anchor="middle" textLength="51.93" lengthAdjust="spacingAndGlyphs">30%</text>
</svg>
<div class="h" id="hl">(kraj lahko izberete v meniju)</div>
<div class="h" id="ht">Ljubljana 14 dni</div>
<div class="h" id="hr">Zadnja posodobitev: 31.10.2025 - 06:24</div>
</body></html>
